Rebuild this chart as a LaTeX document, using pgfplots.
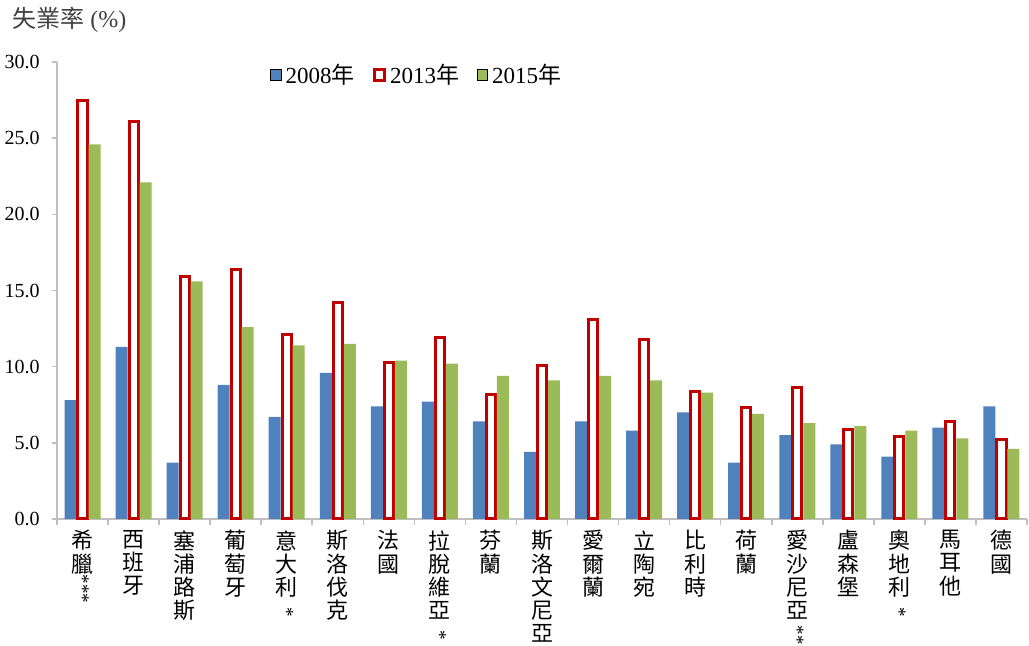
\documentclass[border=0pt]{standalone}
\usepackage{fontspec}
\setmainfont{Liberation Serif}
\newfontfamily\cjk{Noto Sans CJK TC}
\usepackage{pgfplots}
\pgfplotsset{compat=1.18}
\definecolor{cblue}{HTML}{4F81BD}
\definecolor{cred}{HTML}{C00000}
\definecolor{cgreen}{HTML}{9BBB59}
\definecolor{axgray}{HTML}{BFBFBF}
\definecolor{titlegray}{HTML}{404040}
\newcommand{\stars}[1]{\\[0pt]\rotatebox[origin=c]{-90}{\rmfamily\fontsize{9.5}{10}\selectfont #1}}
\pgfplotsset{sqleg/.style={legend image code/.code={\draw[##1] (0pt,-2.6pt) rectangle (5.2pt,2.6pt);}}}
\begin{document}
\begin{tikzpicture}
\begin{axis}[
  scale only axis, width=485pt, height=228.5pt,
  ymin=0, ymax=30, xmin=-0.5, xmax=18.5,
  ybar,
  axis x line=bottom, axis y line=left,
  axis line style={axgray, line width=0.8pt, -},
  ytick={0,5,...,30},
  yticklabel style={font=\fontsize{10}{12}\selectfont, text=black, inner sep=0pt, xshift=-6pt,
    /pgf/number format/.cd, fixed, fixed zerofill, precision=1, assume math mode=true},
  xtick={0,...,18},
  minor xtick={-0.5,0.5,...,18.5},
  major x tick style={draw=none},
  tick align=outside,
  major tick length=2.5pt, minor tick length=3pt,
  tick style={axgray, line width=0.8pt},
  xticklabel style={anchor=north, align=center, inner sep=0pt, yshift=-3pt,
    font=\cjk\fontsize{11}{11.6}\selectfont},
  xticklabels={{希\\臘\stars{***}},{西\\班\\牙},{塞\\浦\\路\\斯},{葡\\萄\\牙},{意\\大\\利\stars{*}},{斯\\洛\\伐\\克},{法\\國},{拉\\脫\\維\\亞\stars{*}},{芬\\蘭},{斯\\洛\\文\\尼\\亞},{愛\\爾\\蘭},{立\\陶\\宛},{比\\利\\時},{荷\\蘭},{愛\\沙\\尼\\亞\stars{**}},{盧\\森\\堡},{奧\\地\\利\stars{*}},{馬\\耳\\他},{德\\國}},
  legend columns=3,
  legend style={draw=none, fill=none, at={(0.372,0.9716)}, anchor=center,
    font=\fontsize{11.5}{13}\selectfont,
    /tikz/every even column/.append style={column sep=7pt}},
  clip=false,
]
\addplot[sqleg, fill=cblue, draw=none, bar width=0.235, bar shift=-0.235] coordinates {
(0,7.8) (1,11.3) (2,3.7) (3,8.8) (4,6.7) (5,9.6) (6,7.4) (7,7.7) (8,6.4) (9,4.4)
(10,6.4) (11,5.8) (12,7.0) (13,3.7) (14,5.5) (15,4.9) (16,4.1) (17,6.0) (18,7.4)};
\addlegendentry{2008{\cjk 年}}
\addplot[sqleg, fill=white, draw=cred, line width=1.5pt, bar width=0.178, bar shift=0] coordinates {
(0,27.5) (1,26.1) (2,15.9) (3,16.4) (4,12.1) (5,14.2) (6,10.3) (7,11.9) (8,8.2) (9,10.1)
(10,13.1) (11,11.8) (12,8.4) (13,7.3) (14,8.6) (15,5.9) (16,5.4) (17,6.4) (18,5.2)};
\addlegendentry{2013{\cjk 年}}
\addplot[sqleg, fill=cgreen, draw=none, bar width=0.235, bar shift=0.235] coordinates {
(0,24.6) (1,22.1) (2,15.6) (3,12.6) (4,11.4) (5,11.5) (6,10.4) (7,10.2) (8,9.4) (9,9.1)
(10,9.4) (11,9.1) (12,8.3) (13,6.9) (14,6.3) (15,6.1) (16,5.8) (17,5.3) (18,4.6)};
\addlegendentry{2015{\cjk 年}}
\coordinate (bl) at (rel axis cs:0,0);
\coordinate (tr) at (rel axis cs:1,1);
\node[anchor=west, text=titlegray, font=\fontsize{12}{14}\selectfont, inner sep=0pt,
  xshift=-22.5pt, yshift=21pt] at (rel axis cs:0,1) {{\cjk 失業率}\ (\%)};
\end{axis}
\pgfresetboundingbox
\path[use as bounding box] ([shift={(-28.5pt,-63.5pt)}]bl) rectangle ([shift={(1pt,31pt)}]tr);
\end{tikzpicture}
\end{document}
